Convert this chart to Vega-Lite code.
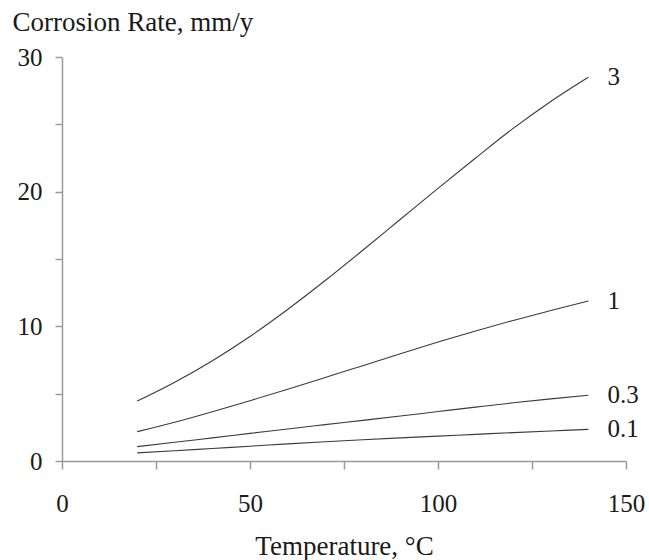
{
  "$schema": "https://vega.github.io/schema/vega-lite/v6.json",
  "width": 564,
  "height": 404,
  "autosize": "none",
  "padding": {"left": 62, "top": 57, "right": 23, "bottom": 99},
  "background": "white",
  "config": {
    "view": {"stroke": null},
    "font": "Liberation Serif",
    "axis": {
      "labelFont": "Liberation Serif",
      "titleFont": "Liberation Serif",
      "labelColor": "#1a1a1a",
      "titleColor": "#1a1a1a",
      "titleFontWeight": "normal",
      "domainColor": "#9a9a9a",
      "tickColor": "#9a9a9a",
      "domainWidth": 1.5,
      "tickWidth": 1.5,
      "grid": false
    }
  },
  "data": {
    "values": [
      {"t": 20, "r": 4.45, "p": "3"}, {"t": 30, "r": 5.85, "p": "3"}, {"t": 40, "r": 7.45, "p": "3"},
      {"t": 50, "r": 9.25, "p": "3"}, {"t": 60, "r": 11.25, "p": "3"}, {"t": 70, "r": 13.4, "p": "3"},
      {"t": 80, "r": 15.65, "p": "3"}, {"t": 90, "r": 17.95, "p": "3"}, {"t": 100, "r": 20.25, "p": "3"},
      {"t": 110, "r": 22.5, "p": "3"}, {"t": 120, "r": 24.7, "p": "3"}, {"t": 130, "r": 26.7, "p": "3"},
      {"t": 140, "r": 28.5, "p": "3"},
      {"t": 20, "r": 2.18, "p": "1"}, {"t": 30, "r": 2.88, "p": "1"}, {"t": 40, "r": 3.66, "p": "1"},
      {"t": 50, "r": 4.48, "p": "1"}, {"t": 60, "r": 5.33, "p": "1"}, {"t": 70, "r": 6.2, "p": "1"},
      {"t": 80, "r": 7.08, "p": "1"}, {"t": 90, "r": 7.96, "p": "1"}, {"t": 100, "r": 8.83, "p": "1"},
      {"t": 110, "r": 9.66, "p": "1"}, {"t": 120, "r": 10.44, "p": "1"}, {"t": 130, "r": 11.17, "p": "1"},
      {"t": 140, "r": 11.88, "p": "1"},
      {"t": 20, "r": 1.07, "p": "0.3"}, {"t": 30, "r": 1.39, "p": "0.3"}, {"t": 40, "r": 1.72, "p": "0.3"},
      {"t": 50, "r": 2.05, "p": "0.3"}, {"t": 60, "r": 2.38, "p": "0.3"}, {"t": 70, "r": 2.7, "p": "0.3"},
      {"t": 80, "r": 3.02, "p": "0.3"}, {"t": 90, "r": 3.34, "p": "0.3"}, {"t": 100, "r": 3.67, "p": "0.3"},
      {"t": 110, "r": 4.0, "p": "0.3"}, {"t": 120, "r": 4.32, "p": "0.3"}, {"t": 130, "r": 4.61, "p": "0.3"},
      {"t": 140, "r": 4.88, "p": "0.3"},
      {"t": 20, "r": 0.6, "p": "0.1"}, {"t": 30, "r": 0.76, "p": "0.1"}, {"t": 40, "r": 0.93, "p": "0.1"},
      {"t": 50, "r": 1.1, "p": "0.1"}, {"t": 60, "r": 1.27, "p": "0.1"}, {"t": 70, "r": 1.43, "p": "0.1"},
      {"t": 80, "r": 1.58, "p": "0.1"}, {"t": 90, "r": 1.72, "p": "0.1"}, {"t": 100, "r": 1.85, "p": "0.1"},
      {"t": 110, "r": 1.98, "p": "0.1"}, {"t": 120, "r": 2.11, "p": "0.1"}, {"t": 130, "r": 2.23, "p": "0.1"},
      {"t": 140, "r": 2.35, "p": "0.1"}
    ]
  },
  "encoding": {
    "x": {
      "field": "t",
      "type": "quantitative",
      "scale": {"domain": [0, 150], "nice": false},
      "axis": {
        "title": "Temperature, °C",
        "values": [0, 25, 50, 75, 100, 125, 150],
        "labelExpr": "datum.value % 50 === 0 ? datum.label : ''",
        "labelFontSize": 25,
        "titleFontSize": 27,
        "tickSize": 8,
        "labelPadding": 22,
        "titleBaseline": "alphabetic",
        "titleY": 93,
        "labelFlush": false
      }
    },
    "y": {
      "field": "r",
      "type": "quantitative",
      "scale": {"domain": [0, 30], "nice": false},
      "axis": {
        "title": "Corrosion Rate, mm/y",
        "values": [0, 5, 10, 15, 20, 25, 30],
        "labelExpr": "datum.value % 10 === 0 ? datum.label : ''",
        "labelFontSize": 25,
        "titleFontSize": 27,
        "tickSize": 7,
        "labelPadding": 13,
        "titleAngle": 0,
        "titleAlign": "left",
        "titleBaseline": "alphabetic",
        "titleX": -50,
        "titleY": -27,
        "labelFlush": false
      }
    }
  },
  "layer": [
    {
      "mark": {"type": "line", "color": "#3a3a3a", "strokeWidth": 1.1, "interpolate": "monotone"},
      "encoding": {"detail": {"field": "p"}}
    },
    {
      "transform": [{"filter": "datum.t === 140"}],
      "mark": {"type": "text", "align": "left", "baseline": "middle", "dx": 19, "fontSize": 25, "font": "Liberation Serif", "color": "#1a1a1a"},
      "encoding": {"text": {"field": "p"}}
    }
  ]
}
